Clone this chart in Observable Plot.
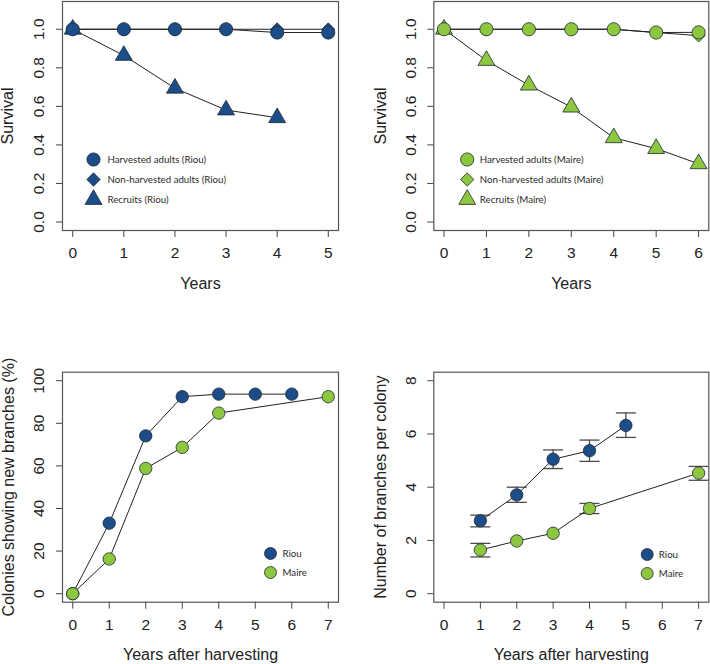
<!DOCTYPE html>
<html>
<head>
<meta charset="utf-8">
<script src="https://cdn.jsdelivr.net/npm/d3@7"></script>
<script src="https://cdn.jsdelivr.net/npm/@observablehq/plot@0.6"></script>
<style>
  html, body { margin: 0; padding: 0; background: #fff; }
  #wrap { position: relative; width: 710px; height: 664px; overflow: hidden; }
  #wrap svg { position: absolute; }
</style>
</head>
<body>
<div id="wrap"></div>
<script>
// ---------- Data ----------
// Panel A: survival, Riou
const riouYears = [0, 1, 2, 3, 4, 5];
const riouHarvested = [1.0, 1.0, 1.0, 1.0, 0.983, 0.983];
const riouNonHarvested = [1.0, 1.0, 1.0, 1.0, 1.0, 1.0];
const riouRecruitYears = [0, 1, 2, 3, 4];
const riouRecruits = [1.0, 0.864, 0.694, 0.581, 0.541];

// Panel B: survival, Maire
const maireYears = [0, 1, 2, 3, 4, 5, 6];
const maireHarvested = [1.0, 1.0, 1.0, 1.0, 1.0, 0.983, 0.984];
const maireNonHarvested = [1.0, 1.0, 1.0, 1.0, 1.0, 0.983, 0.967];
const maireRecruits = [1.0, 0.838, 0.710, 0.596, 0.437, 0.381, 0.302];

// Panel C: colonies showing new branches (%)
const riouColonyYears = [0, 1, 2, 3, 4, 5, 6];
const riouColonies = [0, 33.1, 74.1, 92.5, 93.7, 93.7, 93.7];
const maireColonyYears = [0, 1, 2, 3, 4, 7];
const maireColonies = [0, 16.3, 58.8, 68.7, 84.8, 92.5];

// Panel D: number of branches per colony (mean, error bars)
const riouBranchYears = [1, 2, 3, 4, 5];
const riouBranches = [2.74, 3.71, 5.05, 5.37, 6.32];
const riouBranchLow = [2.51, 3.43, 4.70, 4.97, 5.87];
const riouBranchHigh = [2.95, 4.00, 5.40, 5.77, 6.79];
const maireBranchYears = [1, 2, 3, 4, 7];
const maireBranches = [1.64, 1.98, 2.27, 3.20, 4.53];
const maireBranchLow = [1.38, 1.98, 2.27, 3.01, 4.26];
const maireBranchHigh = [1.89, 1.98, 2.27, 3.39, 4.78];

// Tick labels
const survivalTicks = [0, 0.2, 0.4, 0.6, 0.8, 1.0];
const riouSurvYearTicks = [0, 1, 2, 3, 4, 5];
const maireSurvYearTicks = [0, 1, 2, 3, 4, 5, 6];
const percentTicks = [0, 20, 40, 60, 80, 100];
const branchTicks = [0, 2, 4, 6, 8];
const harvestYearTicks = [0, 1, 2, 3, 4, 5, 6, 7];

// Legend labels
const riouSurvLegend = ["Harvested adults (Riou)", "Non-harvested adults (Riou)", "Recruits (Riou)"];
const maireSurvLegend = ["Harvested adults (Maire)", "Non-harvested adults (Maire)", "Recruits (Maire)"];
const siteLegend = ["Riou", "Maire"];

// ---------- Styling ----------
const BLUE = "#1c4d88";
const GREEN = "#8dc63f";
const OUTLINE = "#1e2a33";
const AXISFONT = "'Liberation Sans', Arial, Helvetica, sans-serif";
const LEGFONT = "Lato, 'Open Sans', sans-serif";

const zip = (xs, ys) => xs.map((x, i) => ({x, y: ys[i]}));

function series(xs, ys, color, symbol, r) {
  const d = zip(xs, ys);
  return [
    Plot.line(d, {x: "x", y: "y", stroke: "#222", strokeWidth: 1}),
    Plot.dot(d, {x: "x", y: "y", symbol, r, fill: color, stroke: OUTLINE, strokeWidth: 0.8})
  ];
}

function legendMarks(items, anchor, sx, tx, rowsDy) {
  const marks = [];
  items.forEach((it, i) => {
    marks.push(Plot.dot([0], {frameAnchor: anchor, dx: sx, dy: rowsDy[i], symbol: it.symbol, r: it.r,
      fill: it.color, stroke: OUTLINE, strokeWidth: 0.8}));
    marks.push(Plot.text([it.label], {frameAnchor: anchor, dx: tx, dy: rowsDy[i], text: d => d,
      textAnchor: "start", lineAnchor: "middle", fontFamily: LEGFONT, fontSize: 9.7, fill: "#2a2a2a"}));
  });
  return marks;
}

const capSymbol = {draw(ctx) { ctx.moveTo(-10, 0); ctx.lineTo(10, 0); }};

function panel(o) {
  const plot = Plot.plot({
    width: o.width, height: o.height,
    marginLeft: o.ml, marginRight: o.mr, marginTop: o.mt, marginBottom: o.mb,
    style: {fontFamily: AXISFONT, fontSize: "15.5px", color: "#222", background: "transparent"},
    x: {domain: o.xDomain, axis: null},
    y: {domain: o.yDomain, axis: null},
    marks: [
      Plot.axisX({ticks: o.xTicks, tickSize: 7, tickFormat: () => "", label: null, stroke: "#444"}),
      Plot.axisY({ticks: o.yTicks, tickSize: 6, tickFormat: () => "", label: null, stroke: "#444"}),
      Plot.text(o.xTicks, {x: d => d, frameAnchor: "bottom", dy: 23, text: d => String(d),
        textAnchor: "middle", lineAnchor: "middle", fontSize: 15.5, fill: "#222"}),
      Plot.text(o.yTicks, {y: d => d, frameAnchor: "left", dx: -23, rotate: -90, text: o.yFmt,
        textAnchor: "middle", lineAnchor: "middle", fontSize: 15.5, fill: "#222"}),
      Plot.text([o.xLabel], {frameAnchor: "bottom", dy: 53, text: d => d,
        textAnchor: "middle", lineAnchor: "middle", fontSize: 16, fill: "#222"}),
      Plot.text([o.yLabel], {frameAnchor: "left", dx: o.yLabelDx, rotate: -90, text: d => d,
        textAnchor: "middle", lineAnchor: "middle", fontSize: 16, fill: "#222"}),
      ...o.marks,
      ...o.legend,
      Plot.frame({stroke: "#555", strokeWidth: 1.2})
    ]
  });
  plot.style.left = o.left + "px";
  plot.style.top = o.top + "px";
  document.getElementById("wrap").appendChild(plot);
}

const fmt1 = d => d.toFixed(1);

// Panel A
panel({
  left: 0, top: 0, width: 355, height: 330, ml: 62, mr: 17, mt: 1, mb: 100,
  xDomain: [-0.2, 5.2], yDomain: [-0.044, 1.144],
  xTicks: riouSurvYearTicks, yTicks: survivalTicks, yFmt: fmt1,
  xLabel: "Years", yLabel: "Survival", yLabelDx: -55,
  marks: [
    ...series(riouRecruitYears, riouRecruits, BLUE, "triangle", 6.3),
    ...series(riouYears, riouNonHarvested, BLUE, "diamond2", 5.8),
    ...series(riouYears, riouHarvested, BLUE, "circle", 6.6)
  ],
  legend: legendMarks([
    {label: riouSurvLegend[0], symbol: "circle", r: 6.6, color: BLUE},
    {label: riouSurvLegend[1], symbol: "diamond2", r: 6.0, color: BLUE},
    {label: riouSurvLegend[2], symbol: "triangle", r: 6.3, color: BLUE}
  ], "top-left", 31, 45, [158, 178, 198])
});

// Panel B
panel({
  left: 355, top: 0, width: 355, height: 330, ml: 78.3, mr: 1.7, mt: 1, mb: 100,
  xDomain: [-0.24, 6.24], yDomain: [-0.044, 1.144],
  xTicks: maireSurvYearTicks, yTicks: survivalTicks, yFmt: fmt1,
  xLabel: "Years", yLabel: "Survival", yLabelDx: -53.3,
  marks: [
    ...series(maireYears, maireRecruits, GREEN, "triangle", 6.3),
    ...series(maireYears, maireNonHarvested, GREEN, "diamond2", 5.8),
    ...series(maireYears, maireHarvested, GREEN, "circle", 6.6)
  ],
  legend: legendMarks([
    {label: maireSurvLegend[0], symbol: "circle", r: 6.6, color: GREEN},
    {label: maireSurvLegend[1], symbol: "diamond2", r: 6.0, color: GREEN},
    {label: maireSurvLegend[2], symbol: "triangle", r: 6.3, color: GREEN}
  ], "top-left", 33.4, 46, [158, 178, 198])
});

// Panel C
panel({
  left: 0, top: 330, width: 355, height: 334, ml: 62, mr: 17, mt: 41.7, mb: 62.3,
  xDomain: [-0.28, 7.28], yDomain: [-4, 104],
  xTicks: harvestYearTicks, yTicks: percentTicks, yFmt: d => String(d),
  xLabel: "Years after harvesting", yLabel: "Colonies showing new branches (%)", yLabelDx: -54,
  marks: [
    ...series(riouColonyYears, riouColonies, BLUE, "circle", 6.2),
    ...series(maireColonyYears, maireColonies, GREEN, "circle", 6.2)
  ],
  legend: legendMarks([
    {label: siteLegend[0], symbol: "circle", r: 6, color: BLUE},
    {label: siteLegend[1], symbol: "circle", r: 6, color: GREEN}
  ], "bottom-right", -68, -56, [-48.7, -29.7])
});

// Panel D
// zero-length error bars are skipped (as R's arrows() does)
const riouErr = riouBranchYears.map((x, i) => ({x, lo: riouBranchLow[i], hi: riouBranchHigh[i]}))
  .filter(d => d.hi > d.lo);
const maireErr = maireBranchYears.map((x, i) => ({x, lo: maireBranchLow[i], hi: maireBranchHigh[i]}))
  .filter(d => d.hi > d.lo);
function errorBars(d) {
  return [
    Plot.ruleX(d, {x: "x", y1: "lo", y2: "hi", stroke: "#4a4a4a", strokeWidth: 1.3}),
    Plot.dot(d, {x: "x", y: "lo", symbol: capSymbol, r: 1, stroke: "#4a4a4a", strokeWidth: 1.3}),
    Plot.dot(d, {x: "x", y: "hi", symbol: capSymbol, r: 1, stroke: "#4a4a4a", strokeWidth: 1.3})
  ];
}
panel({
  left: 355, top: 330, width: 355, height: 334, ml: 78.3, mr: 1.7, mt: 41.7, mb: 62.3,
  xDomain: [-0.28, 7.28], yDomain: [-0.32, 8.32],
  xTicks: harvestYearTicks, yTicks: branchTicks, yFmt: d => String(d),
  xLabel: "Years after harvesting", yLabel: "Number of branches per colony", yLabelDx: -53.3,
  marks: [
    ...errorBars(riouErr),
    ...errorBars(maireErr),
    ...series(riouBranchYears, riouBranches, BLUE, "circle", 6.2),
    ...series(maireBranchYears, maireBranches, GREEN, "circle", 6.2)
  ],
  legend: legendMarks([
    {label: siteLegend[0], symbol: "circle", r: 6, color: BLUE},
    {label: siteLegend[1], symbol: "circle", r: 6, color: GREEN}
  ], "bottom-right", -61.6, -50, [-47.7, -28.7])
});
</script>
</body>
</html>
